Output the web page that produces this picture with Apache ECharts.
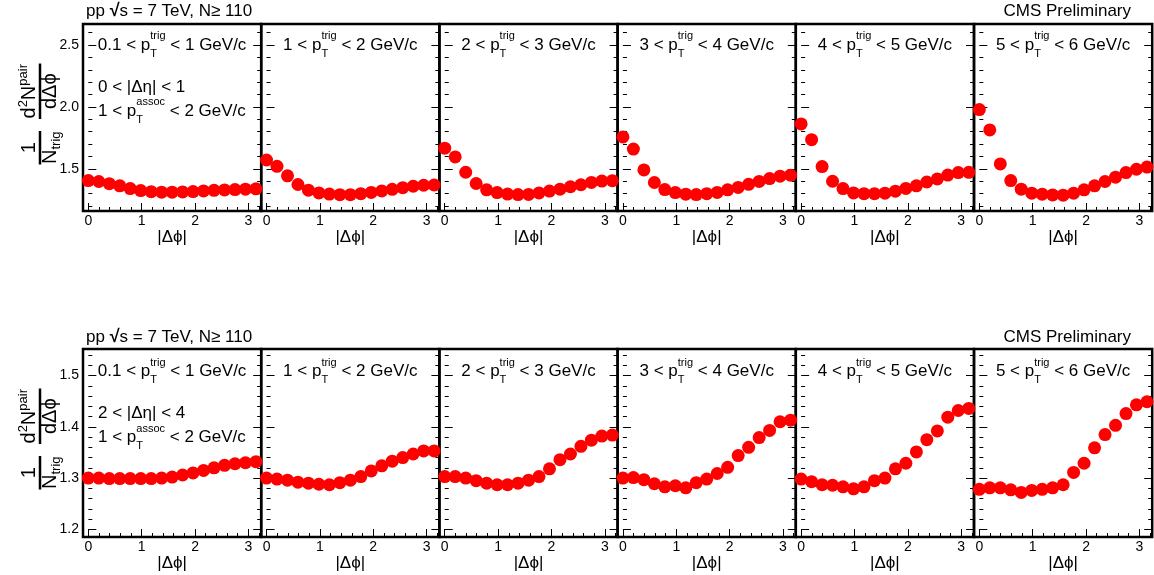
<!DOCTYPE html>
<html><head><meta charset="utf-8">
<script src="https://cdn.jsdelivr.net/npm/echarts@6/dist/echarts.min.js"></script>
<style>html,body{margin:0;padding:0;background:#fff}#c{width:1154px;height:575px}</style>
</head><body><div id="c"></div>
<script>
// ---------------- data ----------------
const dPhi = [0.000, 0.196, 0.393, 0.589, 0.785, 0.982, 1.178, 1.374, 1.571, 1.767, 1.963, 2.160, 2.356, 2.553, 2.749, 2.945, 3.142];
const ptTrigLow  = ['0.1', '1', '2', '3', '4', '5'];
const ptTrigHigh = ['1', '2', '3', '4', '5', '6'];

// 0 < |Δη| < 1
const near_pt01_1 = [1.406, 1.398, 1.381, 1.363, 1.341, 1.325, 1.316, 1.312, 1.312, 1.314, 1.317, 1.322, 1.327, 1.330, 1.333, 1.336, 1.339];
const near_pt1_2  = [1.572, 1.521, 1.444, 1.374, 1.328, 1.306, 1.297, 1.292, 1.292, 1.300, 1.310, 1.322, 1.335, 1.348, 1.360, 1.368, 1.370];
const near_pt2_3  = [1.667, 1.597, 1.473, 1.382, 1.331, 1.309, 1.297, 1.293, 1.294, 1.306, 1.321, 1.336, 1.356, 1.372, 1.391, 1.402, 1.405];
const near_pt3_4  = [1.758, 1.660, 1.492, 1.390, 1.333, 1.309, 1.296, 1.293, 1.300, 1.310, 1.331, 1.350, 1.375, 1.399, 1.422, 1.441, 1.449];
const near_pt4_5  = [1.863, 1.736, 1.519, 1.400, 1.341, 1.306, 1.300, 1.300, 1.304, 1.320, 1.342, 1.363, 1.394, 1.419, 1.450, 1.470, 1.472];
const near_pt5_6  = [1.979, 1.815, 1.540, 1.406, 1.336, 1.304, 1.296, 1.290, 1.288, 1.304, 1.331, 1.363, 1.398, 1.433, 1.470, 1.497, 1.515];

// 2 < |Δη| < 4
const far_pt01_1 = [1.300, 1.300, 1.299, 1.299, 1.299, 1.299, 1.299, 1.300, 1.302, 1.306, 1.310, 1.315, 1.320, 1.325, 1.328, 1.330, 1.332];
const far_pt1_2  = [1.300, 1.298, 1.296, 1.292, 1.290, 1.288, 1.287, 1.291, 1.296, 1.303, 1.314, 1.324, 1.333, 1.340, 1.347, 1.353, 1.353];
const far_pt2_3  = [1.303, 1.303, 1.300, 1.295, 1.290, 1.287, 1.287, 1.290, 1.296, 1.303, 1.318, 1.336, 1.347, 1.362, 1.374, 1.382, 1.384];
const far_pt3_4  = [1.300, 1.301, 1.297, 1.289, 1.283, 1.285, 1.281, 1.291, 1.298, 1.309, 1.321, 1.344, 1.360, 1.379, 1.393, 1.410, 1.413];
const far_pt4_5  = [1.298, 1.293, 1.287, 1.286, 1.283, 1.279, 1.283, 1.295, 1.300, 1.318, 1.329, 1.351, 1.375, 1.392, 1.419, 1.432, 1.436];
const far_pt5_6  = [1.278, 1.281, 1.281, 1.277, 1.272, 1.276, 1.278, 1.281, 1.287, 1.311, 1.329, 1.359, 1.385, 1.403, 1.426, 1.443, 1.449];

const nearSeries = [near_pt01_1, near_pt1_2, near_pt2_3, near_pt3_4, near_pt4_5, near_pt5_6];
const farSeries  = [far_pt01_1, far_pt1_2, far_pt2_3, far_pt3_4, far_pt4_5, far_pt5_6];

// ticks
const xMajorTicks = [0, 1, 2, 3];
const xMinorTicks = [0.2, 0.4, 0.6, 0.8, 1.2, 1.4, 1.6, 1.8, 2.2, 2.4, 2.6, 2.8, 3.2];
const yMajorNear = [1.5, 2.0, 2.5];
const yMinorNear = [1.2, 1.3, 1.4, 1.6, 1.7, 1.8, 1.9, 2.1, 2.2, 2.3, 2.4, 2.6];
const yMajorFar = [1.2, 1.3, 1.4, 1.5];
const yMinorFar = [1.22, 1.24, 1.26, 1.28, 1.32, 1.34, 1.36, 1.38, 1.42, 1.44, 1.46, 1.48, 1.52, 1.54];

const etaLabels = ['0 < |Δη| < 1', '2 < |Δη| < 4'];
const headerLeft = ['pp ', '√', 's = 7 TeV, N≥ 110'];
const headerRight = 'CMS Preliminary';
const xTitle = '|Δϕ|';

// ---------------- layout ----------------
const FONT = '"Liberation Sans", Arial, Helvetica, "DejaVu Sans", sans-serif';
const P_LEFT = 83, P_W = 178.2;
const X_MIN = -0.1, X_MAX = 3.24;
const rows = [
  {top: 24, h: 187, yMin: 1.16, yMax: 2.67, major: yMajorNear, minor: yMinorNear, data: nearSeries, eta: etaLabels[0], lab: 45, title: 114, head: 11},
  {top: 349, h: 188, yMin: 1.185, yMax: 1.552, major: yMajorFar, minor: yMinorFar, data: farSeries, eta: etaLabels[1], lab: 371.5, title: 439, head: 337}
];

const ctx = document.createElement('canvas').getContext('2d');
function tw(t, s, bold) { ctx.font = (bold ? 'bold ' : '') + s + 'px ' + FONT; return ctx.measureText(t).width; }
function txt(t, x, y, s, bold) {
  return {type: 'text', x: x, y: y, silent: true, z: 100,
    style: {text: t, fontSize: s, fontFamily: FONT, fontWeight: bold ? 'bold' : 'normal', fill: '#000', align: 'left', verticalAlign: 'middle'}};
}
// pieces: {t,s,dy,bold} or {stack:true, sup, sub, s, dySup, dySub}
function seq(pieces, x, y, align) {
  const widths = pieces.map(p => p.stack ? Math.max(tw(p.sup, p.s), tw(p.sub, p.s)) : tw(p.t, p.s, p.bold));
  const total = widths.reduce((a, b) => a + b, 0);
  let cx = align === 'center' ? x - total / 2 : (align === 'right' ? x - total : x);
  const els = [];
  pieces.forEach((p, i) => {
    if (p.stack) {
      els.push(txt(p.sup, cx, y + p.dySup, p.s));
      els.push(txt(p.sub, cx, y + p.dySub, p.s));
    } else {
      els.push(txt(p.t, cx, y + (p.dy || 0), p.s, p.bold));
    }
    cx += widths[i];
  });
  return els;
}
function ptPieces(lo, hi, sup) {
  return [{t: lo + ' < p', s: 17}, {stack: true, sup: sup, sub: 'T', s: 11, dySup: -9, dySub: 8.5}, {t: ' < ' + hi + ' GeV/c', s: 17}];
}
function yTitle(cy) {
  const S = 20, s = 13;
  const wN = tw('N', S), wTrig = tw('trig', s);
  const f1 = wN + wTrig + 1;
  const wd = tw('d', S), w2 = tw('2', s), wpair = tw('pair', s);
  const f2num = wd + w2 + wN + wpair;
  const den = 'dΔϕ';
  const f2den = tw(den, S);
  const f2 = Math.max(f2num, f2den) + 1;
  const gap = 12;
  const x0 = -(f1 + gap + f2) / 2;
  const ch = [];
  ch.push({type: 'line', shape: {x1: x0, y1: 0, x2: x0 + f1, y2: 0}, style: {stroke: '#000', lineWidth: 2.5}});
  const w1 = tw('1', S);
  ch.push(txt('1', x0 + f1 / 2 - w1 / 2, -10.5, S));
  const dx = x0 + (f1 - wN - wTrig) / 2;
  ch.push(txt('N', dx, 10.5, S));
  ch.push(txt('trig', dx + wN, 16.5, s));
  const x2 = x0 + f1 + gap;
  ch.push({type: 'line', shape: {x1: x2, y1: 0, x2: x2 + f2, y2: 0}, style: {stroke: '#000', lineWidth: 2.5}});
  let nx = x2 + (f2 - f2num) / 2;
  ch.push(txt('d', nx, -10.5, S)); nx += wd;
  ch.push(txt('2', nx, -16.5, s)); nx += w2;
  ch.push(txt('N', nx, -10.5, S)); nx += wN;
  ch.push(txt('pair', nx, -16.5, s));
  ch.push(txt(den, x2 + (f2 - f2den) / 2, 10.5, S));
  return {type: 'group', x: 40, y: cy, rotation: Math.PI / 2, children: ch};
}

// ---------------- build option ----------------
const grid = [], xAxis = [], yAxis = [], series = [], graphics = [];
const tickStyle = {color: '#000', width: 1};
rows.forEach((row, r) => {
  for (let c = 0; c < 6; c++) {
    const g = r * 6 + c;
    const left = P_LEFT + c * P_W;
    grid.push({left: left, top: row.top, width: P_W, height: row.h, show: true, borderColor: '#000', borderWidth: 2.5, backgroundColor: 'transparent'});
    const xBase = {type: 'value', gridIndex: g, min: X_MIN, max: X_MAX, position: 'bottom', axisLine: {show: false}, splitLine: {show: false}};
    xAxis.push(Object.assign({}, xBase, {
      axisTick: {show: true, inside: true, length: 8, customValues: xMajorTicks, lineStyle: tickStyle},
      axisLabel: {show: true, customValues: xMajorTicks, margin: 3, fontSize: 14, color: '#000', fontFamily: FONT},
      name: xTitle, nameLocation: 'middle', nameGap: 17,
      nameTextStyle: {fontSize: 17, color: '#000', fontFamily: FONT}
    }));
    xAxis.push(Object.assign({}, xBase, {
      axisTick: {show: true, inside: true, length: 4, customValues: xMinorTicks, lineStyle: tickStyle},
      axisLabel: {show: false}
    }));
    ['left', 'right'].forEach(pos => {
      const yBase = {type: 'value', gridIndex: g, min: row.yMin, max: row.yMax, position: pos, axisLine: {show: false}, splitLine: {show: false}};
      yAxis.push(Object.assign({}, yBase, {
        axisTick: {show: true, inside: true, length: 8, customValues: row.major, lineStyle: tickStyle},
        axisLabel: {show: pos === 'left' && c === 0, customValues: row.major, margin: 4, fontSize: 14, color: '#000', fontFamily: FONT,
          formatter: v => Number(v).toFixed(1)}
      }));
      yAxis.push(Object.assign({}, yBase, {
        axisTick: {show: true, inside: true, length: 4, customValues: row.minor, lineStyle: tickStyle},
        axisLabel: {show: false}
      }));
    });
    series.push({
      type: 'scatter', xAxisIndex: 2 * g, yAxisIndex: 4 * g,
      data: dPhi.map((x, i) => [x, row.data[c][i]]),
      symbol: 'circle', symbolSize: 13, itemStyle: {color: '#ff0000', opacity: 1},
      clip: true, silent: true, z: 3
    });
    graphics.push(...seq(ptPieces(ptTrigLow[c], ptTrigHigh[c], 'trig'), left + P_W / 2, row.lab, 'center'));
  }
  graphics.push(...seq([{t: row.eta, s: 17}], P_LEFT + 15, row.lab + 42, 'left'));
  graphics.push(...seq(ptPieces('1', '2', 'assoc'), P_LEFT + 15, row.lab + 66, 'left'));
  graphics.push(...seq([{t: headerLeft[0], s: 17}, {t: headerLeft[1], s: 18, bold: true}, {t: headerLeft[2], s: 17}], 86, row.head, 'left'));
  graphics.push(...seq([{t: headerRight, s: 17}], 1131, row.head, 'right'));
  graphics.push(yTitle(row.title));
});

const chart = echarts.init(document.getElementById('c'), null, {renderer: 'canvas'});
chart.setOption({
  animation: false,
  backgroundColor: '#fff',
  grid, xAxis, yAxis, series,
  graphic: {elements: graphics}
});
</script>
</body></html>
